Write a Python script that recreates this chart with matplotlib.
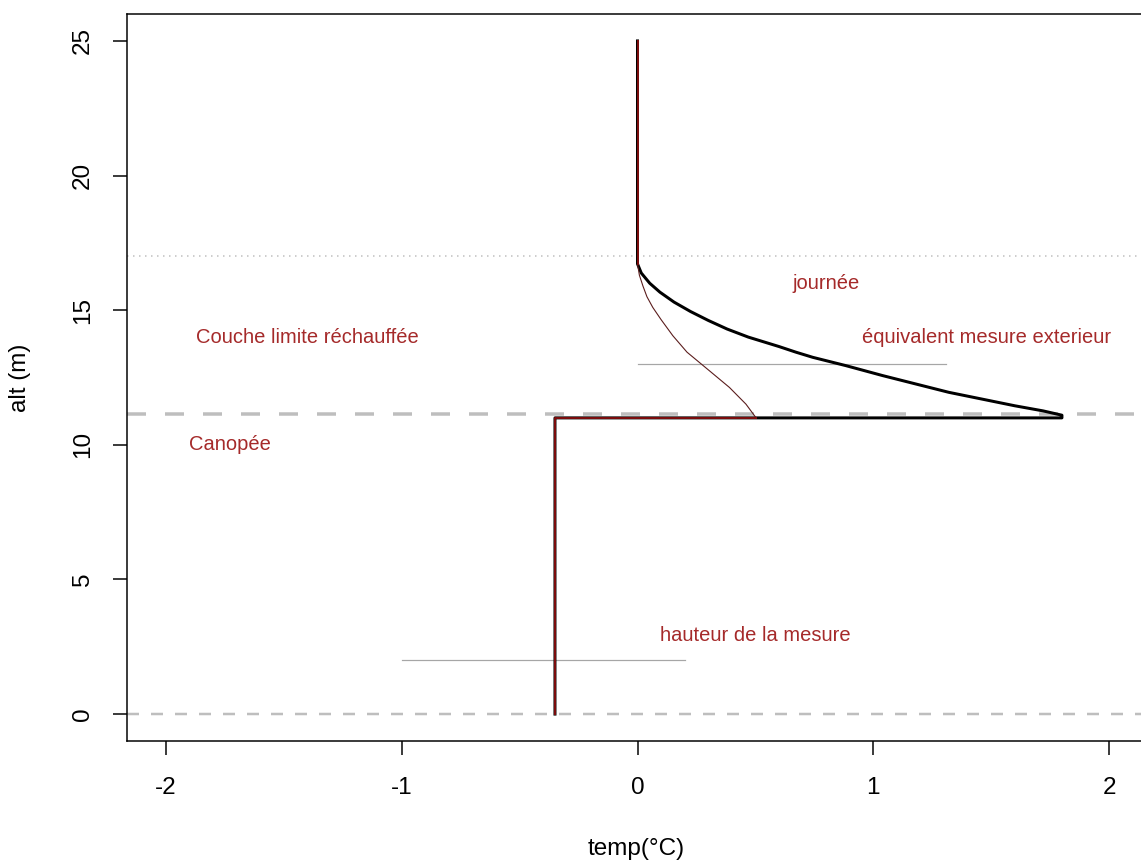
import matplotlib
matplotlib.use("Agg")
import matplotlib.pyplot as plt

plt.rcParams['font.family'] = ['Liberation Sans', 'DejaVu Sans']
plt.rcParams['lines.scale_dashes'] = False

# Daytime temperature profile (thick black): canopy, heated layer, free air
day_temp = [-0.35, -0.35, 1.80, 1.80, 1.72, 1.60, 1.46, 1.32, 1.18, 1.04, 0.884, 0.743,
            0.672, 0.600, 0.470, 0.380, 0.300, 0.225, 0.155, 0.095, 0.052, 0.016, 0.0, 0.0]
day_alt = [0.0, 11.0, 11.0, 11.10, 11.26, 11.45, 11.70, 11.95, 12.26, 12.57, 12.94, 13.25,
           13.44, 13.65, 14.00, 14.30, 14.62, 14.95, 15.30, 15.67, 16.00, 16.38, 16.72, 25.0]

# Outside-equivalent profile (thin curve)
ext_temp = [0.503, 0.460, 0.390, 0.305, 0.210, 0.150, 0.100, 0.065, 0.040, 0.023, 0.008, 0.0]
ext_alt = [11.0, 11.51, 12.13, 12.75, 13.44, 14.05, 14.65, 15.10, 15.50, 15.90, 16.30, 16.72]

# Straight segments of the reference profile
ref_seg1_temp = [-0.35, -0.35, 0.503]
ref_seg1_alt = [0.0, 11.0, 11.0]
ref_seg2_temp = [0.0, 0.0]
ref_seg2_alt = [16.72, 25.0]

# Horizontal reference levels
ground_alt = 0.0
canopy_alt = 11.15
boundary_alt = 17.0

# Measurement-height markers
meas_ext_alt = 13.0
meas_ext_temp = [0.0, 1.31]
meas_in_alt = 2.0
meas_in_temp = [-1.0, 0.2]

# Annotations
labels = ["journée", "équivalent mesure exterieur", "Couche limite réchauffée",
          "Canopée", "hauteur de la mesure"]
label_x = [0.80, 1.48, -1.40, -1.73, 0.50]
label_y = [16.0, 14.0, 14.0, 10.0, 2.9]

xticks = [-2, -1, 0, 1, 2]
yticks = [0, 5, 10, 15, 20, 25]

W, H = 1141, 863
fig = plt.figure(figsize=(W / 100, H / 100), dpi=100)
ax = fig.add_axes([127 / W, 122 / H, 1021 / W, 727 / H])
ax.set_xlim(-2.165, 2.165)
ax.set_ylim(-1.0, 26.0)

px = 72 / 100  # points per pixel

gray = "#bebebe"
ax.axhline(ground_alt, color=gray, lw=2.5 * px, linestyle=(0, (12 * px, 12 * px)), zorder=1)
ax.axhline(canopy_alt, color=gray, lw=3.5 * px, linestyle=(0, (19 * px, 19 * px)), zorder=1)
ax.axhline(boundary_alt, color=gray, lw=1.5 * px, linestyle=(0, (1.5 * px, 4.5 * px)), zorder=1)

ax.plot(meas_ext_temp, [meas_ext_alt] * 2, color="#a6a6a6", lw=1.2 * px, zorder=2)
ax.plot(meas_in_temp, [meas_in_alt] * 2, color="#a6a6a6", lw=1.2 * px, zorder=2)

ax.plot(day_temp, day_alt, color="black", lw=3 * px, solid_joinstyle="round", zorder=3)
ax.plot(ext_temp, ext_alt, color="#5a1c1c", lw=1.1 * px, solid_joinstyle="round", zorder=4)
ax.plot(ref_seg1_temp, ref_seg1_alt, color="#7a0c0c", lw=2 * px, zorder=4)
ax.plot(ref_seg2_temp, ref_seg2_alt, color="#7a0c0c", lw=2 * px, zorder=4)

for s, x, y in zip(labels, label_x, label_y):
    ax.text(x, y, s, color="#a52a2a", fontsize=14.5, ha="center", va="center", zorder=5)

ax.set_xticks(xticks)
ax.set_xticklabels([str(v) for v in xticks])
ax.set_yticks(yticks)
ax.set_yticklabels([str(v) for v in yticks], rotation=90, va="center")
ax.tick_params(axis="both", direction="out", length=14 * px, width=1.5 * px,
               labelsize=17.5, color="black")
ax.tick_params(axis="x", pad=22 * px)
ax.tick_params(axis="y", pad=19 * px)

for sp in ax.spines.values():
    sp.set_linewidth(1.5 * px)

ax.set_xlabel("temp(°C)", fontsize=17.5)
ax.set_ylabel("alt (m)", fontsize=17.5)
ax.xaxis.set_label_coords((636 - 127) / 1021, (741 - 849) / 727)
ax.xaxis.label.set_va("center")
ax.yaxis.set_label_coords((20 - 127) / 1021, 0.5)
ax.yaxis.label.set_va("center")

fig.savefig("out.png", dpi=100)
